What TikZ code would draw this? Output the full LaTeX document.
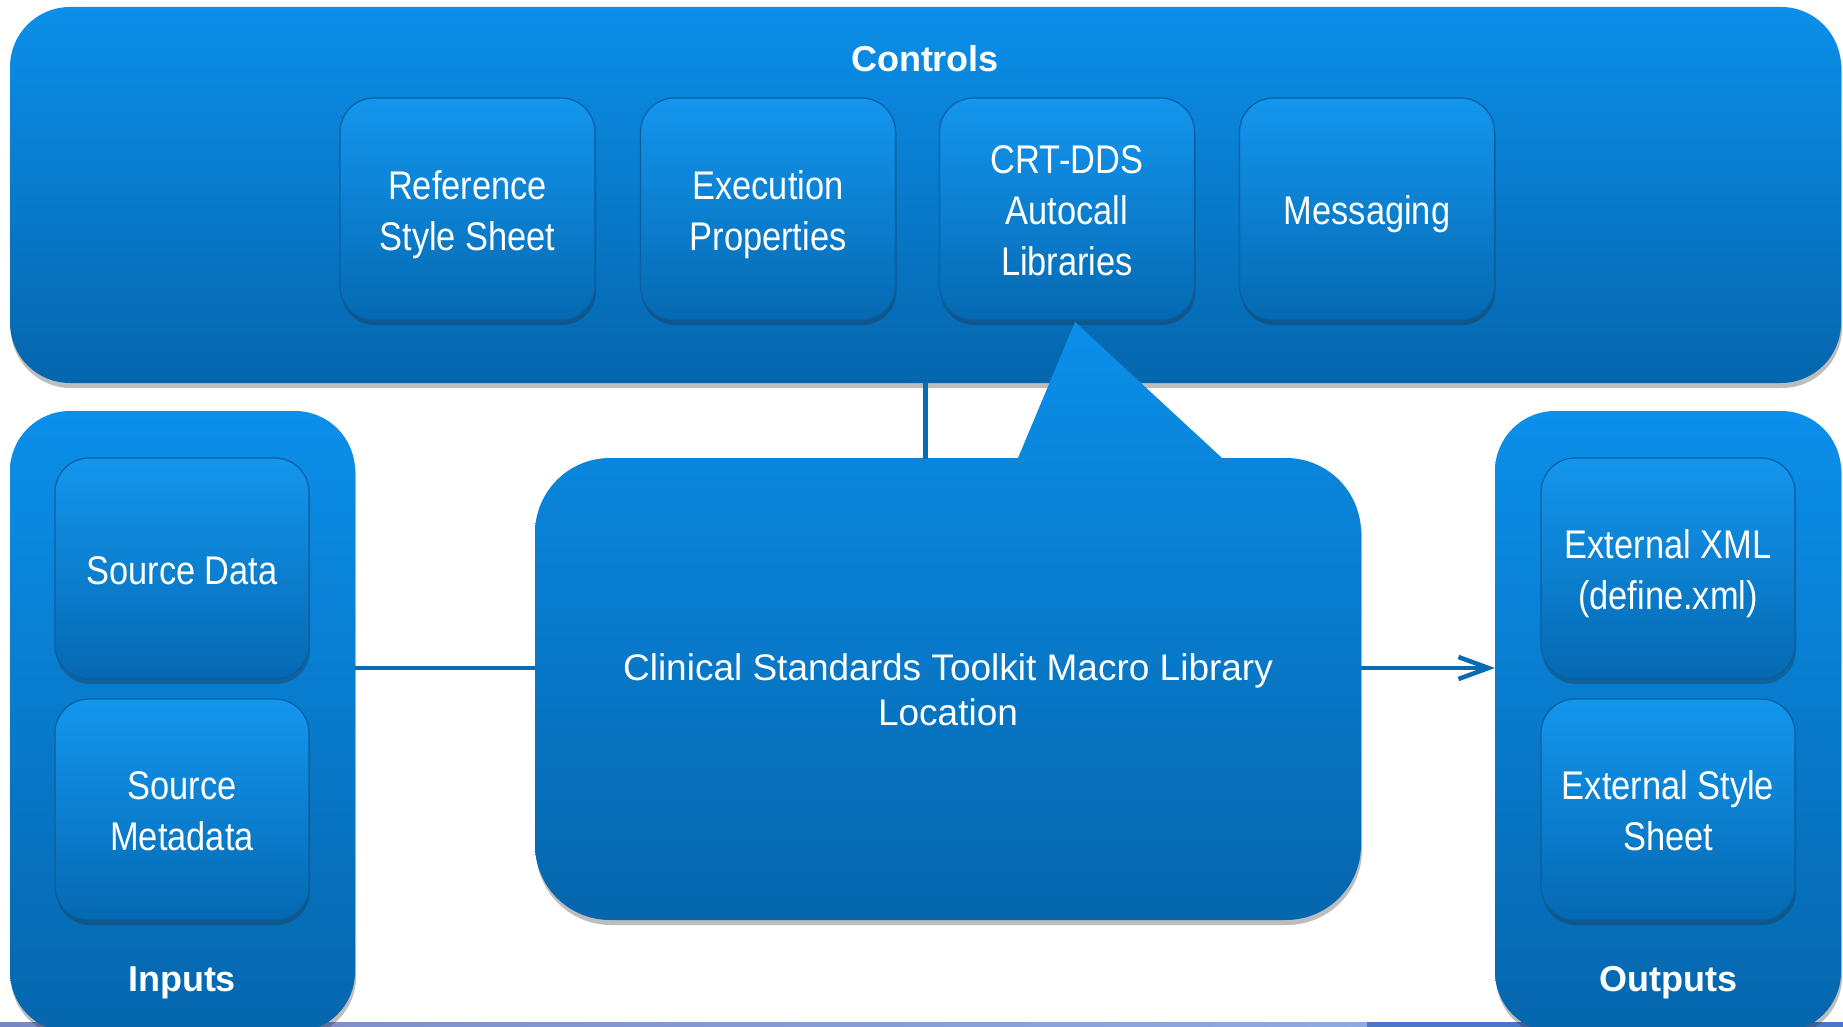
\documentclass[tikz,border=0pt]{standalone}
\usepackage{fontspec}
\setmainfont{Liberation Sans}
\newfontfamily\narrowfont[FakeStretch=0.86]{Liberation Sans}
\usetikzlibrary{shadows,arrows.meta}
\definecolor{btop}{HTML}{0B8FEA}
\definecolor{bbot}{HTML}{0566AD}
\definecolor{stop}{HTML}{1396EE}
\definecolor{sbot}{HTML}{0569B2}
\definecolor{sedge}{HTML}{0A5E9E}
\definecolor{lineblue}{HTML}{0A6CB0}
\definecolor{stripL}{HTML}{7888C4}
\definecolor{stripM}{HTML}{8EAAE2}
\definecolor{stripR}{HTML}{4A78C8}
\newcommand{\boxtopstrut}{\rule{0pt}{41pt}}
\newcommand{\boxbotstrut}{\rule[-10pt]{0pt}{10pt}}
\tikzset{
  shadowed/.style={drop shadow={shadow xshift=1pt, shadow yshift=-5pt, fill=black!85, opacity=0.3}},
  bigbox/.style={rounded corners=60pt, top color=btop, bottom color=bbot, draw=none,
    inner sep=0pt, outer sep=0pt, shadowed},
  smallbox/.style={rounded corners=34pt, minimum width=255pt, minimum height=222pt,
    top color=stop, bottom color=sbot, draw=sedge, line width=1.2pt, text=white, inner sep=0pt, outer sep=0pt,
    font=\narrowfont\fontsize{40}{51}\selectfont, align=center, shadowed},
  grouptitle/.style={text=white, font=\bfseries\fontsize{36}{40}\selectfont, inner sep=0pt},
  conn/.style={draw=lineblue, line width=4.5pt},
}
\begin{document}
\begin{tikzpicture}[x=1pt, y=-1pt]
\useasboundingbox (0,0) rectangle (1843,1027);
\fill[white] (0,0) rectangle (1843,1027);
% bottom strip
\shade[left color=stripL, right color=stripM] (0,1022) rectangle (1367,1027);
\fill[stripR] (1367,1022) rectangle (1843,1027);

% group boxes
\node[bigbox, minimum width=1831pt, minimum height=376pt] (controls) at (925.5,195) {};
\node[bigbox, minimum width=345pt, minimum height=621pt] (inputs) at (182.5,721.5) {};
\node[bigbox, minimum width=346pt, minimum height=621pt] (outputs) at (1668,721.5) {};

% titles
\node[grouptitle, anchor=base] (controlsT) at (925,71.5) {Controls};
\node[grouptitle, anchor=base] (inputsT) at (182,991) {Inputs};
\node[grouptitle, anchor=base] (outputsT) at (1668,991) {Outputs};

% control items
\node[smallbox] (ref) at (467.5,209) {\boxtopstrut Reference\\Style Sheet\boxbotstrut};
\node[smallbox] (exec) at (768,209) {\boxtopstrut Execution\\Properties\boxbotstrut};
\node[smallbox] (crt) at (1067,209) {\boxtopstrut CRT-DDS\\Autocall\\Libraries\boxbotstrut};
\node[smallbox] (msg) at (1367,209) {\boxtopstrut Messaging\boxbotstrut};

% inputs
\node[smallbox, minimum width=254pt, minimum height=221pt] (srcdata) at (182,568.5) {\boxtopstrut Source Data\boxbotstrut};
\node[smallbox, minimum width=254pt, minimum height=221pt] (srcmeta) at (182,809.5) {\boxtopstrut Source\\Metadata\boxbotstrut};

% outputs
\node[smallbox, minimum width=254pt, minimum height=221pt] (extxml) at (1668,568.5) {\boxtopstrut External XML\\(define.xml)\boxbotstrut};
\node[smallbox, minimum width=254pt, minimum height=221pt] (extss) at (1668,809.5) {\boxtopstrut External Style\\Sheet\boxbotstrut};

% callout shape
\path[top color=btop, bottom color=bbot, shadowed]
  (1222,458) -- (1286,458) arc[start angle=270, end angle=360, radius=75]
  -- (1361,845) arc[start angle=0, end angle=90, radius=75]
  -- (610,920) arc[start angle=90, end angle=180, radius=75]
  -- (535,533) arc[start angle=180, end angle=270, radius=75]
  -- (1018,458) -- (1075,322) -- cycle;
\node[inner sep=0pt, outer sep=0pt, minimum width=826pt, minimum height=462pt, text=white,
  font=\fontsize{37}{45}\selectfont, align=center] (callout) at (948,690)
  {Clinical Standards Toolkit Macro Library\\Location};

% connectors
\coordinate (cline) at (0,668);
\draw[conn] (controls.south) -- (controls.south |- callout.north);
\draw[conn] (inputs.east |- cline) -- (callout.west |- cline);
\draw[conn, -{Straight Barb[length=30pt, width=22pt]}] (callout.east |- cline) -- (outputs.west |- cline);
\end{tikzpicture}
\end{document}
